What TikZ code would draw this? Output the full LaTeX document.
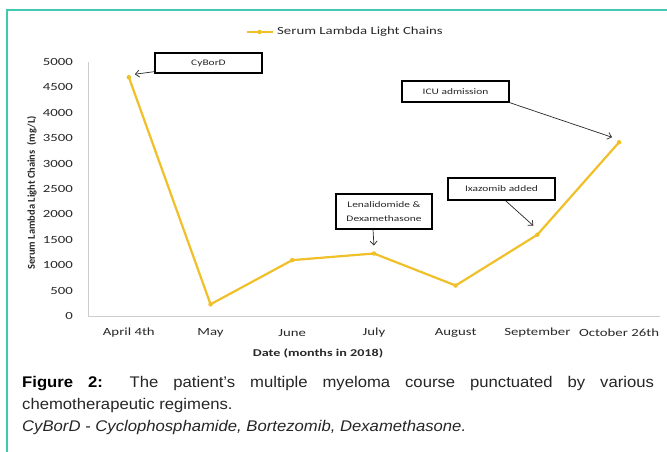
\documentclass[tikz,border=0pt]{standalone}
\usepackage{fontspec}
\setmainfont{Liberation Sans}
\newfontfamily\chartfont{Carlito}
\usepackage{graphicx}
\usetikzlibrary{arrows.meta,positioning}
\definecolor{framecol}{RGB}{64,200,176}
\definecolor{serieyellow}{RGB}{240,192,40}
\definecolor{axisgray}{RGB}{205,205,205}
\definecolor{inkgray}{RGB}{40,40,40}
\newcommand{\chartwide}[1]{\scalebox{1.35}[1]{#1}}
\tikzset{>={Straight Barb[length=4bp,width=7bp]}}
\tikzset{
  ticklabel/.style={font=\chartfont\fontsize{11}{13}\selectfont, text=inkgray, inner sep=0pt},
  axistitle/.style={font=\chartfont\bfseries\fontsize{10.5}{12}\selectfont, text=inkgray, inner sep=0pt},
  notebox/.style={draw=black, line width=1.3bp, minimum width=107bp, minimum height=21bp, inner sep=1bp,
    font=\chartfont\fontsize{8.5}{14}\selectfont, text=inkgray, align=center},
  notearrow/.style={->, draw=inkgray, line width=0.7bp},
  datapoint/.style={circle, fill=serieyellow, inner sep=0pt, minimum size=4.5bp}
}

\begin{document}
\begin{tikzpicture}[x=1bp,y=1bp]
    \useasboundingbox (0,0) rectangle (667,452);
    \fill[white] (0,0) rectangle (667,452);
    \draw[framecol, line width=1.3bp] (667,442) -- (7,442) -- (7,0);

    % axes
    \coordinate (o) at (88,136);
    \coordinate (ytop) at (88,390);
    \coordinate (xend) at (660,136);
    \draw[axisgray, line width=0.9bp] (ytop) -- (o) -- (xend);
    \foreach \v in {0,500,...,5000}
        \node[ticklabel, anchor=east] (y\v) at (73,136+\v*0.0508) {\chartwide{\v}};
    \foreach \lbl [count=\i] in {April 4th, May, June, July, August, September, October 26th}
        \node[ticklabel] (x\i) at (88+81.7*\i-40.85,119) {\chartwide{\lbl}};
    \node[axistitle, rotate=90] (ytitle) at (32,259) {Serum Lambda Light Chains~ (mg/L)};
    \node[axistitle] (xtitle) at (318,99) {\chartwide{Date (months in 2018)}};

    % series
    \foreach \v [count=\i] in {4700,230,1100,1230,600,1600,3420}
        \coordinate (p\i) at (88+81.7*\i-40.85,136+\v*0.0508);
    \draw[serieyellow, line width=2.2bp, line join=round]
        (p1) -- (p2) -- (p3) -- (p4) -- (p5) -- (p6) -- (p7);
    \foreach \i in {1,...,7}
        \node[datapoint] (d\i) at (p\i) {};

    % legend
    \node[ticklabel, anchor=west] (legtext) at (277,420) {\chartwide{Serum Lambda Light Chains}};
    \node[datapoint, left=15bp of legtext] (legmark) {};
    \draw[serieyellow, line width=2.2bp] ([xshift=-13bp]legmark.center) -- ([xshift=13bp]legmark.center);

    % notes
    \node[notebox, minimum height=20bp] (cybord) at (208.5,389) {\chartwide{CyBorD}};
    \node[notebox] (icu) at (455.5,360.5) {\chartwide{ICU admission}};
    \node[notebox, minimum height=22bp] (ixa) at (501.5,263) {\chartwide{Ixazomib added}};
    \node[notebox, minimum width=96bp, minimum height=35bp] (lena) at (384,240.5)
        {\chartwide{Lenalidomide \&}\\\chartwide{Dexamethasone}};
    \draw[notearrow] ([yshift=2bp]cybord.south west) -- ([shift={(6bp,3bp)}]p1);
    \draw[notearrow] (icu.south east) -- ([shift={(-7bp,5bp)}]p7);
    \draw[notearrow] ([xshift=4bp]ixa.south) -- ([shift={(-4bp,9bp)}]p6);
    \draw[notearrow] ([xshift=-11bp]lena.south) -- ([yshift=8bp]p4);

    % caption
    \node[anchor=north west, inner sep=0pt, text=black!85] (caption) at (22,76)
        {\scalebox{1.08}[1]{\parbox{585bp}{\fontsize{15.5}{22}\selectfont
        \textbf{\color{black}Figure 2:} The patient’s multiple myeloma course punctuated by various\linebreak
        chemotherapeutic regimens.\par
        \textit{CyBorD - Cyclophosphamide, Bortezomib, Dexamethasone.}}}};
\end{tikzpicture}
\end{document}
